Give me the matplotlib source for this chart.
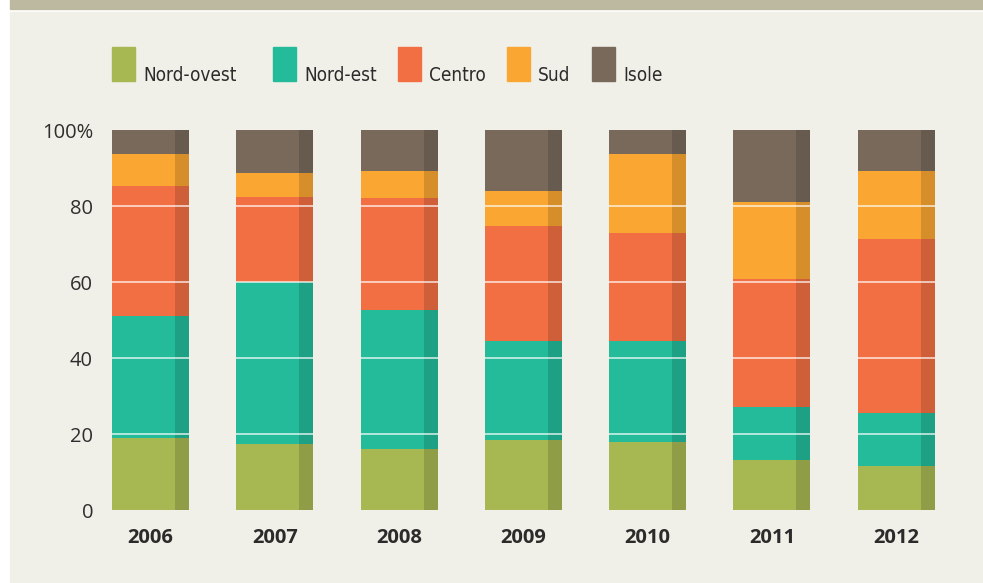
import matplotlib.pyplot as plt
from matplotlib.patches import Rectangle

years = ["2006", "2007", "2008", "2009", "2010", "2011", "2012"]
regions = ["Nord-ovest", "Nord-est", "Centro", "Sud", "Isole"]
nord_ovest = [19.0, 17.4, 16.1, 18.4, 17.9, 13.2, 11.6]
nord_est = [32.1, 42.5, 36.6, 26.1, 26.6, 13.9, 13.9]
centro = [34.2, 22.5, 29.4, 30.2, 28.4, 33.7, 45.8]
sud = [8.4, 6.3, 7.1, 9.2, 20.8, 20.3, 17.9]
isole = [6.3, 11.3, 10.8, 16.1, 6.3, 18.9, 10.8]
yticks = [0, 20, 40, 60, 80, 100]
ytick_labels = ["0", "20", "40", "60", "80", "100%"]

series = [nord_ovest, nord_est, centro, sud, isole]
colors = ["#a7b752", "#24bb9b", "#f26f43", "#f9a632", "#78695b"]

W, H = 983, 583
fig = plt.figure(figsize=(W / 100, H / 100), dpi=100)
fig.patch.set_facecolor("white")

# panel background and top band
fig.patches.append(Rectangle((10 / W, 0), 1, (H - 12) / H, transform=fig.transFigure,
                             color="#f1f0e8", zorder=-10))
fig.patches.append(Rectangle((10 / W, 1 - 9 / H), 1, 9 / H, transform=fig.transFigure,
                             color="#bdb9a0", zorder=-10))

ax = fig.add_axes([100 / W, (H - 510) / H, 860 / W, 380 / H])
ax.set_facecolor("none")

step = 124.3
x = list(range(len(years)))
bw = 77 / step
dark_w = 14 / step

bottom = [0.0] * len(years)
for vals, c in zip(series, colors):
    ax.bar(x, vals, bw, bottom=bottom, color=c, linewidth=0, zorder=2)
    bottom = [b + v for b, v in zip(bottom, vals)]

# darker right side of each bar
ax.bar([i + bw / 2 - dark_w for i in x], bottom, dark_w, align="edge",
       color="black", alpha=0.14, linewidth=0, zorder=3)

# gridlines only across the bars
for i in x:
    ax.hlines([20, 40, 60, 80], i - bw / 2, i + bw / 2, colors="white",
              linewidth=1.3, alpha=0.7, zorder=4)

ax.set_xlim((100 - 150.5) / step, (960 - 150.5) / step)
ax.set_ylim(0, 100)
for s in ax.spines.values():
    s.set_visible(False)
ax.tick_params(length=0)
ax.set_yticks(yticks)
ax.set_yticklabels(ytick_labels, fontsize=14.5, color="#2e2e2e", family="Open Sans")
ax.tick_params(axis="y", pad=5)
ax.set_xticks(x)
ax.set_xticklabels(years, fontsize=14.5, fontweight="bold", color="#2b2b2b",
                   family="Open Sans")
ax.tick_params(axis="x", pad=13)

# legend
leg_x = [112, 273, 398, 507, 592]
for lx, name, c in zip(leg_x, regions, colors):
    fig.patches.append(Rectangle((lx / W, 1 - 81 / H), 23 / W, 34 / H,
                                 transform=fig.transFigure, color=c))
    fig.text((lx + 31) / W, 1 - 81 / H, name, fontsize=13.6, color="#2b2b2b",
             family="DejaVu Sans", fontstretch="condensed", va="baseline")

plt.savefig("out.png", dpi=100, facecolor=fig.get_facecolor())
